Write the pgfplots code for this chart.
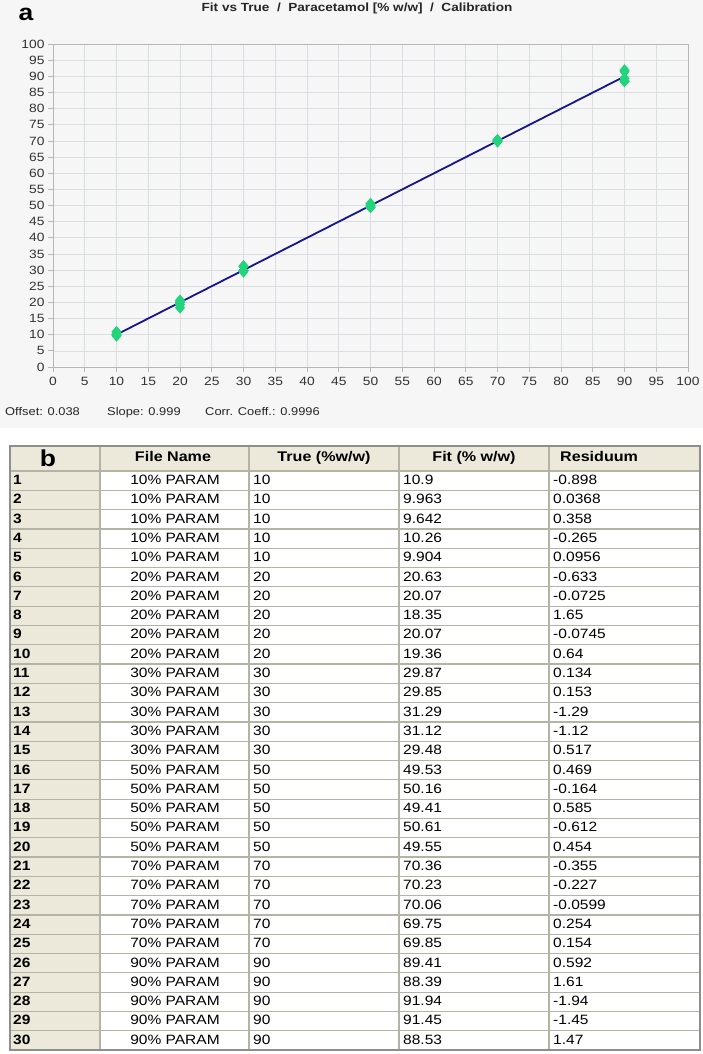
\documentclass[border=0pt]{standalone}
\usepackage{fontspec}
\setmainfont[FakeStretch=1.15]{Liberation Sans}
\usepackage{pgfplots}
\usepackage{pgfplotstable}
\pgfplotsset{compat=1.18}

\definecolor{panelbg}{HTML}{F6F6F6}
\definecolor{gridc}{HTML}{D9DEE2}
\definecolor{axc}{HTML}{B4B8BB}
\definecolor{ptgreen}{HTML}{22D47C}
\definecolor{fitnavy}{HTML}{15158C}
\definecolor{tbbeige}{HTML}{ECE9DB}
\definecolor{tbline}{HTML}{B5B2A6}
\definecolor{tbframe}{HTML}{8E8E8E}

% calibration results: sample no., true and fitted content, residual
\pgfplotstableread{
n true fit res
1 10 10.9 -0.898
2 10 9.963 0.0368
3 10 9.642 0.358
4 10 10.26 -0.265
5 10 9.904 0.0956
6 20 20.63 -0.633
7 20 20.07 -0.0725
8 20 18.35 1.65
9 20 20.07 -0.0745
10 20 19.36 0.64
11 30 29.87 0.134
12 30 29.85 0.153
13 30 31.29 -1.29
14 30 31.12 -1.12
15 30 29.48 0.517
16 50 49.53 0.469
17 50 50.16 -0.164
18 50 49.41 0.585
19 50 50.61 -0.612
20 50 49.55 0.454
21 70 70.36 -0.355
22 70 70.23 -0.227
23 70 70.06 -0.0599
24 70 69.75 0.254
25 70 69.85 0.154
26 90 89.41 0.592
27 90 88.39 1.61
28 90 91.94 -1.94
29 90 91.45 -1.45
30 90 88.53 1.47
}\calib

\begin{document}
\begin{tikzpicture}[x=1pt,y=1pt]
\path[use as bounding box] (0,0) rectangle (703,-1054);
\fill[white] (0,0) rectangle (703,-1054);
\fill[panelbg] (0,0) rectangle (703,-428);

\node[font=\bfseries\fontsize{11.8}{14}\selectfont, text=black!85] at (357,-8) {Fit vs True \ / \ Paracetamol [\% w/w] \ / \ Calibration};
\node[font=\bfseries\fontsize{23}{26}\selectfont, anchor=base] at (26,-21) {a};

\begin{axis}[
    at={(53pt,-367pt)}, anchor=south west,
    scale only axis, width=635pt, height=323pt,
    xmin=0, xmax=100, ymin=0, ymax=100,
    xtick distance=5, ytick distance=5,
    xtick pos=left, ytick pos=left,
    grid=major,
    major grid style={gridc, line width=0.7pt},
    axis line style={axc, line width=0.9pt},
    tick style={axc, line width=0.8pt},
    tick align=outside, major tick length=5pt,
    tick label style={font=\fontsize{12}{14}\selectfont, text=black!80},
    xticklabel style={yshift=-2pt},
    /pgf/number format/assume math mode=true,
    axis background/.style={fill=panelbg},
    clip=false,
]
\addplot[only marks, mark=diamond*, mark size=5.5pt,
    mark options={fill=ptgreen, draw=ptgreen, xscale=1.15}]
    table[x=true, y=fit] {\calib};
\addplot[fitnavy, line width=1.8pt] coordinates {(10,10.028) (90,89.948)};
\end{axis}

\begin{scope}[font=\fontsize{11.2}{13}\selectfont, text=black!85]
\node[anchor=base west, inner xsep=0pt] at (5,-415) {Offset: 0.038};
\node[anchor=base west, inner xsep=0pt] at (107,-415) {Slope: 0.999};
\node[anchor=base west, inner xsep=0pt] at (205,-415) {Corr. Coeff.: 0.9996};
\end{scope}

% table
\fill[tbbeige] (10,-446) rectangle (700,-471);
\fill[tbbeige] (10,-471) rectangle (100,-1050);
\foreach \i in {0,...,29} {
  \draw[tbline, line width=1.2pt] (10,{-471-\i*19.3}) -- (700,{-471-\i*19.3});
}
\foreach \xx in {100,249,399,549} {
  \draw[tbline, line width=1.2pt] (\xx,-446) -- (\xx,-1050);
}
\draw[tbframe, line width=1.6pt] (10,-446) rectangle (700,-1050);

\begin{scope}[font=\bfseries\fontsize{14}{16}\selectfont]
\node[font=\bfseries\fontsize{23}{26}\selectfont, anchor=base] at (48,-466) {b};
\node[anchor=base] at (173,-461) {File Name};
\node[anchor=base] at (324,-461) {True (\%w/w)};
\node[anchor=base] at (474,-461) {Fit (\% w/w)};
\node[anchor=base west, inner xsep=0pt] at (560,-461) {Residuum};
\end{scope}

\begin{scope}[font=\fontsize{13.5}{15}\selectfont]
\foreach \r in {0,...,29} {
  \pgfmathsetmacro\yb{-471-\r*19.3-13.5}
  \pgfplotstablegetelem{\r}{n}\of\calib \let\cn\pgfplotsretval
  \pgfplotstablegetelem{\r}{true}\of\calib \let\ct\pgfplotsretval
  \pgfplotstablegetelem{\r}{fit}\of\calib \let\cf\pgfplotsretval
  \pgfplotstablegetelem{\r}{res}\of\calib \let\cr\pgfplotsretval
  \node[anchor=base west, inner xsep=0pt, font=\bfseries\fontsize{13.5}{15}\selectfont] at (13,\yb) {\cn};
  \node[anchor=base] at (175,\yb) {\ct\% PARAM};
  \node[anchor=base west, inner xsep=0pt] at (253,\yb) {\ct};
  \node[anchor=base west, inner xsep=0pt] at (403,\yb) {\cf};
  \node[anchor=base west, inner xsep=0pt] at (553,\yb) {\cr};
}
\end{scope}
\end{tikzpicture}
\end{document}
